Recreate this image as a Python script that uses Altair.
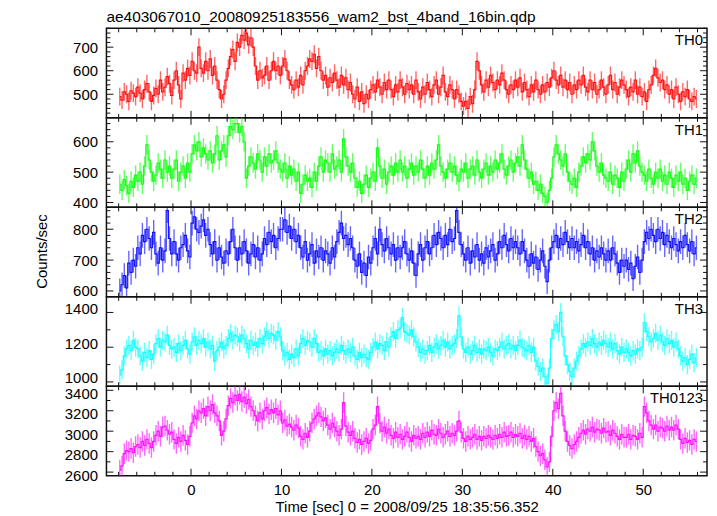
import altair as alt
import numpy as np
import pandas as pd

FONT = "Liberation Sans"
TITLE = "ae403067010_20080925183556_wam2_bst_4band_16bin.qdp"
XTITLE = "Time [sec] 0 = 2008/09/25 18:35:56.352"
YTITLE = "Counts/sec"

T_START = -8.0
BIN = 0.25

th0 = [
    490, 475, 510, 500, 470, 515, 505, 490, 530, 505, 480, 520, 545, 510, 470, 495,
    525, 500, 560, 510, 530, 575, 545, 495, 560, 600, 540, 480, 590, 560, 610, 580,
    640, 600, 590, 700, 610, 590, 640, 600, 650, 580, 620, 560, 520, 480, 500, 560,
    610, 660, 690, 640, 720, 700, 750, 730, 760, 710, 740, 700, 620, 560, 600, 570,
    580, 620, 560, 600, 640, 600, 620, 580, 620, 650, 600, 560, 540, 520, 560, 530,
    580, 540, 600, 620, 650, 640, 670, 610, 660, 600, 560, 580, 530, 570, 550, 590,
    560, 530, 580, 540, 570, 520, 550, 500, 480, 530, 470, 510, 460, 500, 480, 520,
    540, 510, 560, 530, 500, 550, 520, 560, 520, 490, 540, 510, 560, 530, 500, 545,
    520, 540, 500, 560, 510, 480, 530, 500, 550, 520, 490, 540, 560, 500, 530, 580,
    510, 490, 540, 520, 480, 520, 500, 470, 450, 470, 440, 490, 460, 520, 640, 600,
    540, 510, 560, 530, 580, 550, 520, 560, 540, 590, 560, 520, 500, 540, 520, 560,
    530, 570, 510, 550, 520, 490, 540, 510, 560, 520, 500, 540, 510, 550, 530, 570,
    600, 560, 540, 580, 530, 560, 520, 550, 500, 540, 520, 560, 540, 580, 530, 510,
    560, 520, 550, 500, 520, 560, 530, 500, 540, 580, 520, 550, 500, 530, 560, 540,
    520, 490, 530, 510, 560, 500, 530, 490, 510, 470, 520, 540, 580, 610, 570, 550,
    560, 520, 540, 500, 520, 480, 530, 500, 470, 510, 490, 520, 480, 470, 490, 480,
]

th1 = [
    460, 440, 475, 455, 430, 470, 450, 490, 470, 500, 460, 520, 590, 540, 500, 470,
    490, 530, 510, 480, 540, 500, 520, 480, 510, 540, 470, 500, 520, 480, 530, 500,
    560, 590, 570, 600, 550, 580, 560, 540, 570, 530, 560, 620, 540, 570, 590, 550,
    620, 650, 640, 660, 660, 630, 650, 600, 480, 520, 550, 530, 510, 560, 540, 500,
    550, 520, 560, 530, 540, 570, 530, 510, 500, 530, 480, 520, 490, 510, 470, 500,
    430, 460, 490, 470, 480, 450, 500, 470, 520, 550, 500, 540, 530, 500, 560, 510,
    520, 540, 500, 610, 550, 520, 500, 530, 480, 450, 470, 430, 460, 490, 450, 480,
    500, 470, 580, 520, 480, 510, 460, 500, 520, 490, 530, 500, 540, 500, 520, 480,
    510, 530, 490, 520, 500, 540, 510, 480, 520, 490, 530, 510, 540, 590, 520, 500,
    480, 510, 530, 500, 520, 490, 470, 510, 500, 530, 480, 510, 520, 490, 540, 500,
    480, 510, 530, 490, 520, 500, 540, 510, 530, 560, 510, 490, 520, 540, 500, 530,
    550, 520, 590, 540, 510, 480, 500, 460, 470, 440, 460, 430, 420, 400, 440, 480,
    550, 590, 560, 540, 520, 560, 500, 470, 460, 480, 450, 500, 520, 550, 530, 560,
    540, 600, 570, 520, 500, 530, 490, 480, 470, 500, 460, 490, 480, 450, 500, 470,
    510, 540, 500, 560, 530, 570, 520, 500, 490, 470, 510, 480, 460, 500, 480, 510,
    470, 490, 460, 500, 480, 450, 490, 470, 500, 460, 480, 440, 470, 490, 460, 480,
]

th2 = [
    600, 620, 650, 610, 690, 660, 700, 680, 740, 720, 780, 760, 800, 770, 740, 790,
    720, 690, 740, 700, 730, 860, 770, 720, 760, 720, 700, 740, 750, 780, 730, 710,
    820, 840, 800, 790, 810, 830, 780, 800, 750, 720, 760, 700, 740, 710, 690, 730,
    720, 760, 800, 740, 700, 740, 720, 760, 730, 690, 720, 750, 710, 740, 700, 720,
    770, 750, 790, 760, 780, 740, 770, 800, 800, 830, 790, 810, 770, 800, 760, 780,
    740, 710, 760, 700, 720, 750, 690, 730, 710, 740, 700, 730, 720, 690, 740, 710,
    760, 790, 820, 770, 780, 750, 770, 740, 700, 680, 720, 660, 690, 650, 710, 690,
    740, 770, 720, 800, 750, 730, 770, 740, 720, 750, 700, 740, 710, 740, 760, 720,
    700, 730, 690, 650, 720, 750, 700, 740, 760, 720, 740, 780, 750, 790, 770, 740,
    780, 750, 800, 760, 770, 860, 790, 750, 720, 700, 740, 690, 730, 710, 750, 700,
    720, 690, 740, 710, 730, 750, 700, 720, 760, 740, 780, 750, 730, 770, 740, 760,
    740, 720, 760, 730, 700, 680, 720, 690, 710, 670, 700, 730, 680, 630, 700, 740,
    760, 780, 740, 770, 750, 790, 760, 740, 770, 740, 760, 730, 750, 780, 740, 760,
    720, 740, 700, 730, 710, 740, 720, 700, 730, 700, 740, 720, 690, 660, 700, 680,
    700, 670, 690, 640, 680, 710, 660, 700, 760, 790, 770, 800, 780, 760, 800, 770,
    790, 750, 780, 760, 740, 770, 750, 730, 760, 740, 780, 750, 730, 760, 720, 740,
]

th3 = [
    1040, 1070, 1150, 1190, 1210, 1180, 1240, 1200, 1190, 1150, 1120, 1170, 1140, 1180, 1130, 1160,
    1220, 1250, 1200, 1240, 1230, 1270, 1210, 1190, 1200, 1170, 1220, 1180, 1210, 1240, 1190, 1160,
    1230, 1260, 1210, 1240, 1220, 1250, 1200, 1230, 1190, 1210, 1120, 1180, 1200, 1230, 1190, 1210,
    1250, 1280, 1240, 1270, 1260, 1230, 1270, 1250, 1220, 1190, 1240, 1210, 1230, 1200, 1250, 1220,
    1260, 1290, 1250, 1280, 1270, 1240, 1290, 1260, 1180, 1150, 1170, 1130, 1160, 1140, 1190, 1150,
    1220, 1250, 1210, 1240, 1230, 1200, 1250, 1220, 1170, 1180, 1150, 1190, 1160, 1180, 1150, 1170,
    1190, 1170, 1210, 1180, 1160, 1190, 1170, 1200, 1150, 1130, 1170, 1140, 1160, 1140, 1130, 1170,
    1200, 1230, 1190, 1220, 1210, 1180, 1230, 1200, 1260, 1290, 1250, 1300, 1310, 1370, 1290, 1280,
    1270, 1300, 1260, 1230, 1200, 1170, 1190, 1160, 1180, 1210, 1170, 1200, 1220, 1190, 1210, 1240,
    1200, 1230, 1190, 1210, 1220, 1250, 1380, 1260, 1190, 1170, 1200, 1160, 1180, 1210, 1170, 1190,
    1160, 1190, 1180, 1200, 1170, 1150, 1190, 1180, 1200, 1230, 1190, 1210, 1220, 1190, 1210, 1180,
    1210, 1240, 1200, 1190, 1180, 1210, 1170, 1200, 1120, 1090, 1060, 1080, 1030, 990, 1080, 1250,
    1300, 1330, 1290, 1400, 1260, 1150, 1100, 1060, 1030, 1080, 1120, 1150, 1190, 1220, 1200, 1230,
    1210, 1250, 1220, 1200, 1230, 1210, 1240, 1220, 1200, 1230, 1190, 1220, 1180, 1160, 1200, 1170,
    1190, 1170, 1150, 1180, 1160, 1190, 1180, 1200, 1340, 1290, 1260, 1230, 1250, 1280, 1240, 1270,
    1230, 1210, 1250, 1220, 1240, 1200, 1230, 1190, 1150, 1120, 1140, 1100, 1130, 1160, 1110, 1140,
]

th0123 = [
    2620, 2660, 2780, 2810, 2800, 2830, 2790, 2850, 2870, 2840, 2900, 2860, 2920, 2880, 2840, 2900,
    2960, 3000, 2950, 3040, 3050, 3010, 2970, 2990, 2920, 2880, 2940, 2900, 2960, 2910, 2870, 2950,
    3080, 3150, 3120, 3200, 3180, 3220, 3150, 3240, 3200, 3260, 3180, 3150, 3100, 2960, 3000, 3120,
    3250, 3320, 3280, 3350, 3300, 3360, 3290, 3330, 3270, 3310, 3240, 3200, 3150, 3100, 3180, 3120,
    3200, 3230, 3170, 3210, 3180, 3220, 3160, 3200, 3080, 3110, 3050, 3070, 3040, 3010, 3060, 3030,
    2950, 2920, 2980, 2940, 3000, 3080, 3120, 3150, 3180, 3140, 3100, 3130, 3060, 3020, 3080, 3040,
    3000, 2960, 3020, 3280, 3050, 2990, 2960, 3000, 2930, 2890, 2920, 2870, 2900, 2930, 2880, 2910,
    3020, 3060, 3240, 3080, 3000, 3040, 2980, 3020, 2960, 2930, 2990, 2940, 2970, 2920, 2950, 2990,
    2940, 2900, 2960, 2930, 2950, 2920, 2980, 2940, 2990, 2950, 3010, 2970, 2960, 3020, 2980, 2940,
    2970, 3000, 2950, 2980, 2960, 3000, 3100, 2990, 2930, 2900, 2950, 2920, 2940, 2970, 2920, 2950,
    2910, 2950, 2930, 2960, 2940, 2920, 2960, 2930, 2970, 2940, 2990, 2950, 2960, 2990, 2940, 2970,
    2950, 2980, 2930, 2960, 2920, 2950, 2900, 2930, 2850, 2800, 2760, 2780, 2720, 2650, 2700, 2950,
    3200, 3280, 3220, 3370, 3150, 3000, 2900, 2860, 2830, 2870, 2900, 2940, 2980, 3010, 2970, 3020,
    3000, 3040, 2990, 3020, 3010, 2980, 3030, 2990, 3000, 2960, 3010, 2980, 2950, 2920, 2970, 2940,
    2940, 2970, 2920, 2960, 2950, 2920, 2980, 2940, 3240, 3180, 3100, 3060, 3020, 3060, 3000, 3040,
    3030, 3000, 3050, 3010, 3040, 3010, 3060, 3020, 2920, 2880, 2930, 2890, 2910, 2870, 2920, 2900,
]

panel_names = ["TH0", "TH1", "TH2", "TH3", "TH0123"]
panel_values = [th0, th1, th2, th3, th0123]
panel_errors = [38, 32, 40, 55, 100]
panel_colors = ["#ff0000", "#00ff00", "#0000ff", "#00ffff", "#ff00ff"]
panel_domains = [[400, 780], [384, 679], [581, 871], [975, 1490], [2564, 3439]]
panel_labels = [[500, 600, 700], [400, 500, 600], [600, 700, 800],
                [1000, 1200, 1400], [2600, 2800, 3000, 3200, 3400]]
panel_label_shift = [0, 0, 0, -4, 3]
panel_minor = [
    [v for v in range(420, 781, 20) if v % 100],
    [v for v in range(400, 680, 20) if v % 100],
    [v for v in range(600, 871, 20) if v % 100],
    [1100, 1300],
    [2700, 2900, 3100, 3300],
]

x_labels = [0, 10, 20, 30, 40, 50]
x_minor = [v for v in range(-8, 57, 2) if v % 10]

W = 604
H = 90
XDOM = [-9.35, 57.05]
xscale = alt.Scale(domain=XDOM, nice=False, zero=False)


def tick_layers(xaxis, yaxis, yscale, ymajor, yminor):
    layers = []
    for vals, ln in ((ymajor, 7), (yminor, 4)):
        d = pd.DataFrame({"yv": vals})
        for x0, x1 in ((0, ln), (W, W - ln)):
            layers.append(
                alt.Chart(d).mark_rule(color="#111111", strokeWidth=1).encode(
                    y=alt.Y("yv:Q", scale=yscale, axis=yaxis),
                    x=alt.value(x0), x2=alt.value(x1)))
    for vals, ln in ((x_labels, 7), (x_minor, 4)):
        d = pd.DataFrame({"xv": vals})
        for y0, y1 in ((0, ln), (H, H - ln)):
            layers.append(
                alt.Chart(d).mark_rule(color="#111111", strokeWidth=1).encode(
                    x=alt.X("xv:Q", scale=xscale, axis=xaxis),
                    y=alt.value(y0), y2=alt.value(y1)))
    return layers


charts = []
for i, name in enumerate(panel_names):
    vals = panel_values[i]
    err = panel_errors[i]
    t = T_START + BIN / 2 + BIN * np.arange(len(vals))
    df = pd.DataFrame({"t": t, "v": vals})
    df["lo"] = df["v"] - err
    df["hi"] = df["v"] + err
    yscale = alt.Scale(domain=panel_domains[i], nice=False, zero=False)

    yaxis_kw = dict(values=panel_labels[i], ticks=False, domain=False, grid=False,
                    labelFontSize=15, labelPadding=9, labelColor="black",
                    labelFont=FONT, labelOverlap=False, format="d", title=None,
                    labelOffset=panel_label_shift[i])
    if i == 2:
        yaxis_kw.update(title=YTITLE, titleFontSize=15, titleFont=FONT,
                        titleFontWeight="normal", titleColor="black",
                        titleX=-65, titleY=44, titleAngle=270,
                        titleAlign="center", titleBaseline="middle")
    yaxis = alt.Axis(**yaxis_kw)

    if i == len(panel_names) - 1:
        xaxis = alt.Axis(values=x_labels, ticks=False, domain=False, grid=False,
                         labelFontSize=15, labelPadding=7, labelColor="black",
                         labelFont=FONT, labelFlush=False, format="d",
                         title=XTITLE, titleFontSize=15, titleFont=FONT,
                         titleFontWeight="normal", titleColor="black",
                         titlePadding=2)
    else:
        xaxis = None

    base = alt.Chart(df)
    errbars = base.mark_rule(color=panel_colors[i], strokeWidth=1.4,
                             opacity=0.6, clip=True).encode(
        x=alt.X("t:Q", scale=xscale, axis=xaxis),
        y=alt.Y("lo:Q", scale=yscale, axis=yaxis),
        y2="hi:Q",
    )
    line = base.mark_line(color=panel_colors[i], strokeWidth=1.2,
                          interpolate="step", clip=True, opacity=0.9).encode(
        x=alt.X("t:Q", scale=xscale, axis=xaxis),
        y=alt.Y("v:Q", scale=yscale, axis=yaxis),
    )
    label = alt.Chart(pd.DataFrame({"name": [name]})).mark_text(
        align="right", baseline="top", fontSize=15, font=FONT, color="black"
    ).encode(x=alt.value(W - 4), y=alt.value(5), text="name:N")

    layers = [errbars, line,
              *tick_layers(xaxis, yaxis, yscale, panel_labels[i], panel_minor[i]),
              label]
    if i == 0:
        layers.append(
            alt.Chart(pd.DataFrame({"title": [TITLE]})).mark_text(
                align="left", baseline="alphabetic", fontSize=15.5, font=FONT,
                color="black"
            ).encode(x=alt.value(0), y=alt.value(-6), text="title:N"))
    charts.append(alt.layer(*layers).properties(width=W, height=H))

chart = alt.vconcat(*charts, spacing=0, bounds="flush").properties(
    padding={"left": 26, "top": 0, "right": 0, "bottom": 0},
    background="white",
).configure_view(stroke="#111111", strokeWidth=1.5)

chart.save("out.html", embed_options={"renderer": "svg", "actions": False})
